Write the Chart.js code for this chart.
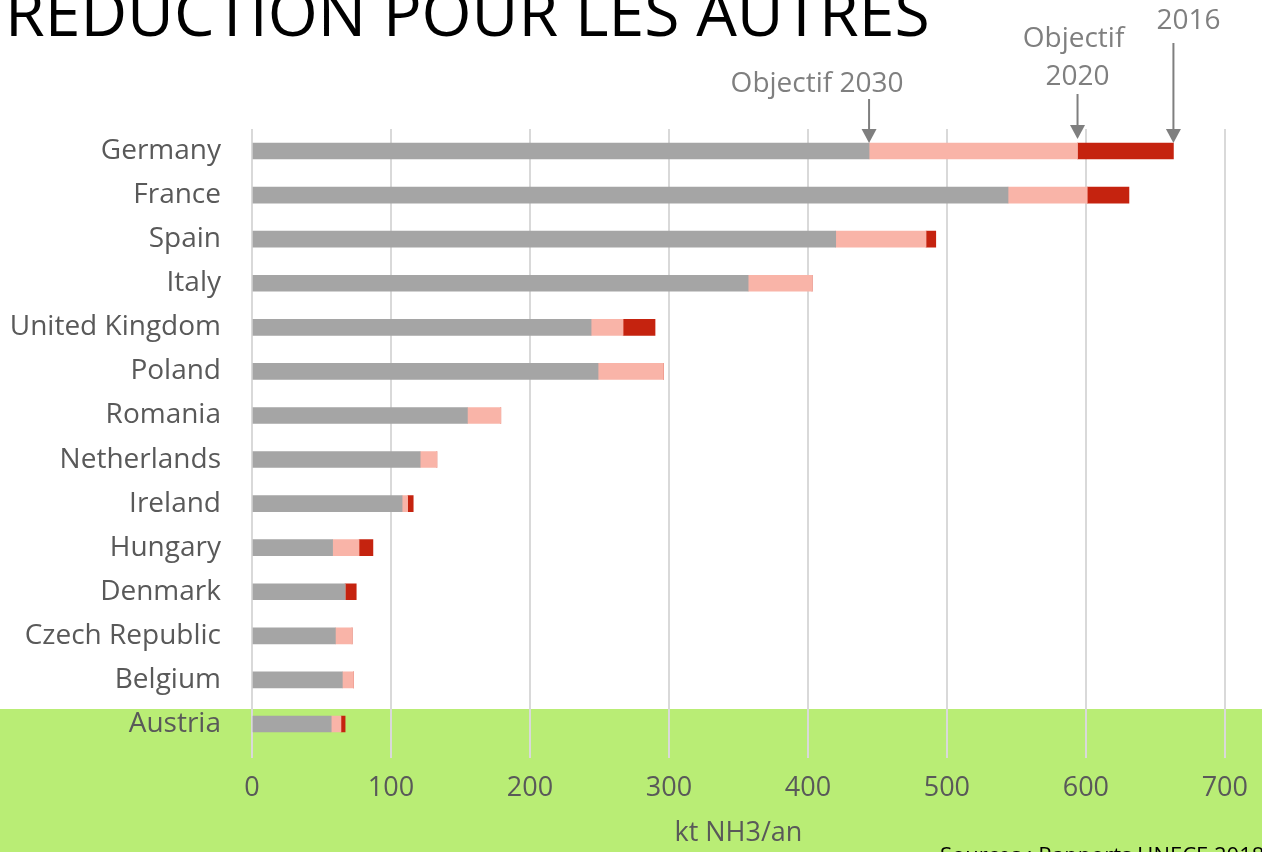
<!DOCTYPE html>
<html>
<head>
<meta charset="utf-8">
<title>NH3</title>
<script src="https://cdn.jsdelivr.net/npm/chart.js@4.4.0/dist/chart.umd.min.js"></script>
<style>
  body { margin: 0; background: #ffffff; }
  #wrap { width: 1262px; height: 852px; position: relative; }
</style>
</head>
<body>
<div id="wrap"><canvas id="chart"></canvas></div>
<script>

// countries, top to bottom
var countries = ["Germany", "France", "Spain", "Italy", "United Kingdom", "Poland", "Romania",
    "Netherlands", "Ireland", "Hungary", "Denmark", "Czech Republic", "Belgium", "Austria"];

// kt NH3/an - segments stacked one after the other
var objectif2030 = [444, 544, 420, 357, 244, 249, 155, 121, 108, 58, 67, 60, 65, 57]; // grey part
var objectif2020 = [150, 57, 65, 46, 23, 47, 24, 12, 4, 19, 0, 12, 8, 7];            // pink part (2020 - 2030)
var emissions2016 = [69, 30, 7, 0, 23, 0, 0, 0, 4, 10, 8, 0, 0, 3];                  // red part (2016 - 2020)

var xTicks = [0, 100, 200, 300, 400, 500, 600, 700];

var titleText = "REDUCTION POUR LES AUTRES";
var sourceText = "Sources : Rapports UNECE 2018";

var textGrey = "#595959";
var arrowGrey = "#7f7f7f";

// background: white page + green band at the bottom
var backgroundPlugin = {
    id: 'background',
    beforeDraw: function (chart) {
        var ctx = chart.ctx;
        ctx.save();
        ctx.fillStyle = "#ffffff";
        ctx.fillRect(0, 0, chart.width, chart.height);
        ctx.fillStyle = "#b9ed75";
        ctx.fillRect(0, 709, chart.width, chart.height - 709);
        ctx.restore();
    }
};

function drawArrow(ctx, x, y1, y2) {
    ctx.strokeStyle = arrowGrey;
    ctx.fillStyle = arrowGrey;
    ctx.lineWidth = 2;
    ctx.beginPath();
    ctx.moveTo(x, y1);
    ctx.lineTo(x, y2 - 12);
    ctx.stroke();
    ctx.beginPath(); // arrow head
    ctx.moveTo(x - 7.5, y2 - 14);
    ctx.lineTo(x + 7.5, y2 - 14);
    ctx.lineTo(x, y2);
    ctx.closePath();
    ctx.fill();
}

// title, arrows pointing to the Germany bar, sources
var annotationPlugin = {
    id: 'annotations',
    afterDraw: function (chart) {
        var ctx = chart.ctx;
        var xs = chart.scales.x;
        ctx.save();

        // big title at the top (cut by the top edge)
        ctx.fillStyle = "#000000";
        ctx.textAlign = "left";
        ctx.textBaseline = "alphabetic";
        ctx.font = "60px 'Open Sans'";
        var w = ctx.measureText(titleText).width;
        var size = 60 * 925 / w;
        ctx.font = size + "px 'Open Sans'";
        ctx.fillText(titleText, 5, 36);

        var x2030 = xs.getPixelForValue(objectif2030[0]);
        var x2020 = xs.getPixelForValue(objectif2030[0] + objectif2020[0]);
        var x2016 = xs.getPixelForValue(objectif2030[0] + objectif2020[0] + emissions2016[0]);

        drawArrow(ctx, x2030, 99, 143);
        drawArrow(ctx, x2020, 94, 139);
        drawArrow(ctx, x2016, 43, 143);

        ctx.fillStyle = arrowGrey;
        ctx.textAlign = "center";
        ctx.font = "28px 'Open Sans'";
        ctx.fillText("Objectif 2030", x2030 - 52, 92);
        ctx.fillText("Objectif", x2020 - 4, 47);
        ctx.fillText("2020", x2020, 85);
        ctx.fillText("2016", x2016 + 15, 29);

        // sources, cut by the right and bottom edge
        ctx.fillStyle = "#000000";
        ctx.textAlign = "left";
        ctx.font = "22px 'Open Sans'";
        ctx.fillText(sourceText, 940, 863);

        ctx.restore();
    }
};

var chartData = {
    labels: countries,
    datasets: [{
        label: 'Objectif 2030',
        data: objectif2030,
        backgroundColor: '#a5a5a5',
        barThickness: 16
    }, {
        label: 'Objectif 2020',
        data: objectif2020,
        backgroundColor: '#f9b4a8',
        barThickness: 16
    }, {
        label: '2016',
        data: emissions2016,
        backgroundColor: '#c5230f',
        barThickness: 16
    }]
};

var ctx = document.getElementById('chart').getContext('2d');
window.myChart = new Chart(ctx, {
    type: 'bar',
    data: chartData,
    plugins: [backgroundPlugin, annotationPlugin],
    options: {
        indexAxis: 'y',
        responsive: true,
        maintainAspectRatio: false,
        animation: false,
        layout: { padding: { top: 129, right: 37, left: 0, bottom: 0 } },
        plugins: {
            legend: { display: false },
            tooltip: { enabled: false }
        },
        scales: {
            x: {
                stacked: true,
                min: 0,
                max: 700,
                afterBuildTicks: function (axis) {
                    axis.ticks = xTicks.map(function (v) { return { value: v }; });
                },
                afterFit: function (axis) { axis.height = 106; },
                grid: { color: '#d9d9d9', lineWidth: 2, tickLength: 12 },
                border: { display: false },
                ticks: {
                    color: textGrey,
                    padding: 14,
                    font: { family: 'Open Sans', size: 27 }
                },
                title: {
                    display: true,
                    text: 'kt NH3/an',
                    color: textGrey,
                    padding: { top: 0, bottom: 2 },
                    font: { family: 'Open Sans', size: 27 }
                }
            },
            y: {
                stacked: true,
                afterFit: function (axis) { axis.width = 252; },
                grid: { display: false, drawTicks: false },
                border: { display: false },
                ticks: {
                    color: textGrey,
                    padding: 31,
                    font: { family: 'Open Sans', size: 28 }
                }
            }
        }
    }
});

</script>
</body>
</html>
